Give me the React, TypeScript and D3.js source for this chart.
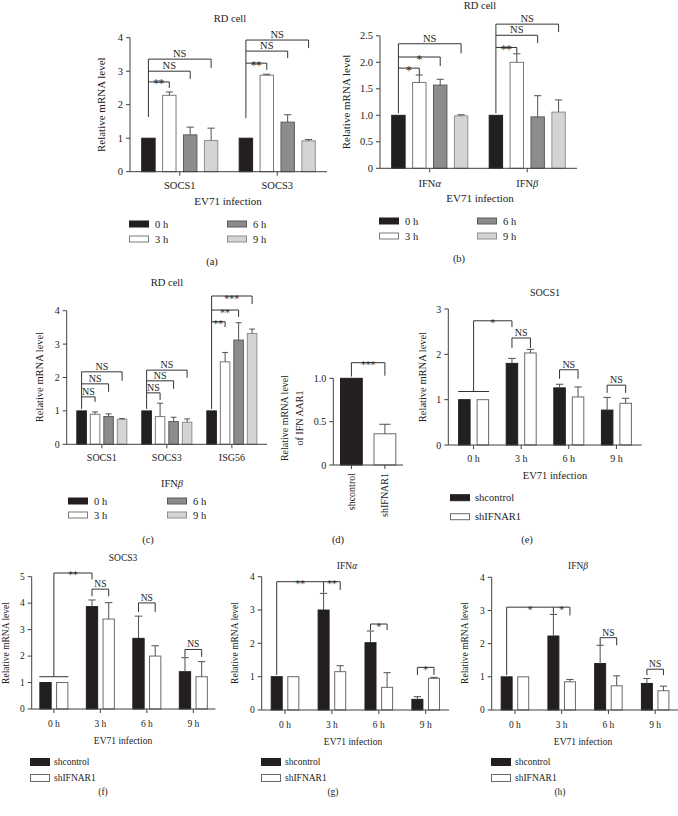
import React from "react";
import * as d3 from "d3";

const FONT = "Liberation Serif, DejaVu Serif, serif";
const STARFONT = "DejaVu Serif, Liberation Serif";
const AXIS = "#404040";
const BRK = "#333333";
const ERR = "#505050";

// ---------------- data ----------------
const timePoints = ["0 h", "3 h", "6 h", "9 h"];
const timeFill = ["#231f20", "#ffffff", "#8c8c8c", "#d4d4d4"];
const timeStroke = ["#231f20", "#7a7a7a", "#5c5c5c", "#8f8f8f"];
const shGroups = ["shcontrol", "shIFNAR1"];
const shFill = ["#231f20", "#ffffff"];
const shStroke = ["#231f20", "#6a6a6a"];

// (a) RD cell, EV71 infection
const genesA = ["SOCS1", "SOCS3"];
const meanA = [[1, 2.28, 1.1, 0.93], [1, 2.88, 1.48, 0.92]];
const errA = [[0, 0.1, 0.23, 0.37], [0, 0.03, 0.22, 0.04]];
const ticksA = [0, 1, 2, 3, 4];

// (b)
const genesB = ["IFNα", "IFNβ"];
const meanB = [[1, 1.62, 1.57, 0.99], [1, 2.0, 0.97, 1.06]];
const errB = [[0, 0.14, 0.11, 0.02], [0, 0.16, 0.4, 0.23]];
const ticksB = [0, 0.5, 1, 1.5, 2, 2.5];

// (c) IFNβ treatment
const genesC = ["SOCS1", "SOCS3", "ISG56"];
const meanC = [[1, 0.9, 0.83, 0.75], [1, 0.83, 0.68, 0.66], [1, 2.47, 3.12, 3.32]];
const errC = [[0, 0.07, 0.08, 0.02], [0, 0.4, 0.13, 0.1], [0, 0.28, 0.52, 0.13]];
const ticksC = [0, 1, 2, 3, 4];

// (d) IFNAR1 knockdown
const meanD = [[1], [0.36]];
const errD = [[0], [0.11]];
const ticksD = [0, 0.5, 1];

// (e)-(h) shcontrol / shIFNAR1 per time point  [time][sh]
const meanE = [[1, 1], [1.8, 2.03], [1.26, 1.06], [0.77, 0.92]];
const errE = [[0, 0], [0.11, 0.08], [0.08, 0.22], [0.28, 0.11]];
const ticksE = [0, 1, 2, 3];

const meanF = [[1, 1], [3.87, 3.4], [2.67, 2.0], [1.41, 1.22]];
const errF = [[0, 0], [0.25, 0.62], [0.84, 0.39], [0.53, 0.57]];
const ticksF = [0, 1, 2, 3, 4, 5];

const meanG = [[1, 1], [3.0, 1.15], [2.02, 0.68], [0.32, 0.95]];
const errG = [[0, 0], [0.5, 0.18], [0.35, 0.44], [0.08, 0.03]];
const ticksG = [0, 1, 2, 3, 4];

const meanH = [[1, 1], [2.23, 0.85], [1.4, 0.73], [0.8, 0.58]];
const errH = [[0, 0], [0.65, 0.07], [0.55, 0.3], [0.15, 0.14]];
const ticksH = [0, 1, 2, 3, 4];

// significance annotations (value units)
type Pos = [number, number];
type Stem = { at: Pos; y0: number; y1: number };
type Bracket = { from: Pos; to: Pos; y: number; dl?: number; dr?: number; label: string };
type Span = { g: number; y: number };

const stemsA: Stem[] = [{ at: [0, 0], y0: 1.63, y1: 3.36 }, { at: [1, 0], y0: 1.6, y1: 3.93 }];
const bracketsA: Bracket[] = [
  { from: [0, 0], to: [0, 1], y: 2.68, dr: 2.5, label: "**" },
  { from: [0, 0], to: [0, 2], y: 3.0, dr: 2.77, label: "NS" },
  { from: [0, 0], to: [0, 3], y: 3.36, dr: 3.1, label: "NS" },
  { from: [1, 0], to: [1, 1], y: 3.24, dr: 3.04, label: "**" },
  { from: [1, 0], to: [1, 2], y: 3.6, dr: 3.39, label: "NS" },
  { from: [1, 0], to: [1, 3], y: 3.93, dr: 3.69, label: "NS" },
];
const stemsB: Stem[] = [{ at: [0, 0], y0: 1.04, y1: 2.35 }, { at: [1, 0], y0: 1.04, y1: 2.72 }];
const bracketsB: Bracket[] = [
  { from: [0, 0], to: [0, 1], y: 1.89, dr: 1.76, label: "*" },
  { from: [0, 0], to: [0, 2], y: 2.1, dr: 1.93, label: "*" },
  { from: [0, 0], to: [0, 3], y: 2.35, dr: 2.17, label: "NS" },
  { from: [1, 0], to: [1, 1], y: 2.28, dr: 2.17, label: "**" },
  { from: [1, 0], to: [1, 2], y: 2.51, dr: 2.36, label: "NS" },
  { from: [1, 0], to: [1, 3], y: 2.72, dr: 2.57, label: "NS" },
];
const stemsC: Stem[] = [
  { at: [0, 0], y0: 1.06, y1: 2.17 },
  { at: [1, 0], y0: 1.06, y1: 2.22 },
  { at: [2, 0], y0: 1.06, y1: 4.44 },
];
const bracketsC: Bracket[] = [
  { from: [0, 0], to: [0, 1], y: 1.42, dr: 1.27, label: "NS" },
  { from: [0, 0], to: [0, 2], y: 1.81, dr: 1.57, label: "NS" },
  { from: [0, 0], to: [0, 3], y: 2.17, dr: 1.9, label: "NS" },
  { from: [1, 0], to: [1, 1], y: 1.54, dr: 1.33, label: "NS" },
  { from: [1, 0], to: [1, 2], y: 1.9, dr: 1.66, label: "NS" },
  { from: [1, 0], to: [1, 3], y: 2.22, dr: 1.99, label: "NS" },
  { from: [2, 0], to: [2, 1], y: 3.67, dr: 3.51, label: "**" },
  { from: [2, 0], to: [2, 2], y: 4.02, dr: 3.81, label: "**" },
  { from: [2, 0], to: [2, 3], y: 4.44, dr: 4.2, label: "***" },
];
const bracketsD: Bracket[] = [{ from: [0, 0], to: [1, 0], y: 1.18, dl: 1.02, dr: 1.03, label: "***" }];
const spansE: Span[] = [{ g: 0, y: 1.18 }];
const stemsE: Stem[] = [{ at: [0, -1], y0: 1.18, y1: 2.74 }];
const bracketsE: Bracket[] = [
  { from: [0, -1], to: [1, 0], y: 2.74, dr: 2.6, label: "*" },
  { from: [1, 0], to: [1, 1], y: 2.36, dl: 2.14, dr: 2.14, label: "NS" },
  { from: [2, 0], to: [2, 1], y: 1.66, dl: 1.46, dr: 1.46, label: "NS" },
  { from: [3, 0], to: [3, 1], y: 1.32, dl: 1.15, dr: 1.15, label: "NS" },
];
const spansF: Span[] = [{ g: 0, y: 1.22 }];
const stemsF: Stem[] = [{ at: [0, -1], y0: 1.22, y1: 5.14 }];
const bracketsF: Bracket[] = [
  { from: [0, -1], to: [1, 0], y: 5.14, dr: 4.9, label: "**" },
  { from: [1, 0], to: [1, 1], y: 4.53, dl: 4.26, dr: 4.26, label: "NS" },
  { from: [2, 0], to: [2, 1], y: 4.01, dl: 3.67, dr: 3.67, label: "NS" },
  { from: [3, 0], to: [3, 1], y: 2.25, dl: 1.97, dr: 1.97, label: "NS" },
];
const stemsG: Stem[] = [{ at: [0, 0], y0: 1.05, y1: 3.85 }];
const bracketsG: Bracket[] = [
  { from: [0, 0], to: [1, 0], y: 3.85, dr: 3.52, label: "**" },
  { from: [1, 0], to: [1, 1], y: 3.85, dr: 3.6, label: "**" },
  { from: [2, 0], to: [2, 1], y: 2.58, dl: 2.4, dr: 2.4, label: "*" },
  { from: [3, 0], to: [3, 1], y: 1.28, dl: 1.05, dr: 1.05, label: "*" },
];
const stemsH: Stem[] = [{ at: [0, 0], y0: 1.05, y1: 3.1 }];
const bracketsH: Bracket[] = [
  { from: [0, 0], to: [1, 0], y: 3.1, dr: 2.9, label: "*" },
  { from: [1, 0], to: [1, 1], y: 3.1, dr: 2.85, label: "*" },
  { from: [2, 0], to: [2, 1], y: 2.18, dl: 1.95, dr: 1.95, label: "NS" },
  { from: [3, 0], to: [3, 1], y: 1.23, dl: 1.05, dr: 1.05, label: "NS" },
];

// ---------------- rendering ----------------
type PanelDef = {
  groups: string[];
  series: string[];
  fills: string[];
  strokes: string[];
  colorBy: "series" | "group";
  mean: number[][];
  err: number[][];
  ymax: number;
  ticks: number[];
  fmt: (v: number) => string;
  x0: number; x1: number; yb: number; yt: number;
  pi: number; po: number; bpi: number;
  stems?: Stem[]; brackets?: Bracket[]; spans?: Span[];
  fs: number; sigFs: number;
  xLabelY?: number; rotate?: boolean;
  cap: number;
};

function greek(label: string) {
  const m = label.match(/^(.*?)([αβ])$/);
  if (!m) return label;
  return (
    <>
      {m[1]}
      <tspan fontStyle="italic">{m[2]}</tspan>
    </>
  );
}

function Panel({ d }: { d: PanelDef }) {
  const x = d3.scaleBand<string>().domain(d.groups).range([d.x0, d.x1]).paddingInner(d.pi).paddingOuter(d.po);
  const xi = d3.scaleBand<string>().domain(d.series).range([0, x.bandwidth()]).paddingInner(d.bpi);
  const y = d3.scaleLinear().domain([0, d.ymax]).range([d.yb, d.yt]);
  const bw = xi.bandwidth();
  const bx = (g: number, s: number) =>
    (x(d.groups[g]) as number) + (s < 0 ? x.bandwidth() / 2 : (xi(d.series[s]) as number) + bw / 2);

  const bars: React.ReactNode[] = [];
  d.mean.forEach((row, g) =>
    row.forEach((v, s) => {
      const ci = d.colorBy === "series" ? s : g;
      const cx = bx(g, s);
      bars.push(
        <rect key={`b${g}-${s}`} x={cx - bw / 2 + 0.5} y={y(v)} width={bw - 1} height={y(0) - y(v)}
          fill={d.fills[ci]} stroke={d.strokes[ci]} strokeWidth={1} />
      );
      const e = d.err[g][s];
      if (e > 0) {
        const cw = bw * d.cap;
        bars.push(
          <g key={`e${g}-${s}`} stroke={ERR} strokeWidth={1}>
            <line x1={cx} x2={cx} y1={y(v)} y2={y(v + e)} />
            <line x1={cx - cw / 2} x2={cx + cw / 2} y1={y(v + e)} y2={y(v + e)} />
          </g>
        );
      }
    })
  );

  const sig: React.ReactNode[] = [];
  (d.spans || []).forEach((sp, i) => {
    const gx = x(d.groups[sp.g]) as number;
    sig.push(<line key={`sp${i}`} x1={gx} x2={gx + x.bandwidth()} y1={y(sp.y)} y2={y(sp.y)} stroke={BRK} />);
  });
  (d.stems || []).forEach((st, i) => {
    const cx = bx(st.at[0], st.at[1]);
    sig.push(<line key={`st${i}`} x1={cx} x2={cx} y1={y(st.y0)} y2={y(st.y1)} stroke={BRK} />);
  });
  (d.brackets || []).forEach((b, i) => {
    const xa = bx(b.from[0], b.from[1]);
    const xb = bx(b.to[0], b.to[1]);
    const yy = y(b.y);
    sig.push(
      <g key={`br${i}`} stroke={BRK} fill="none" strokeWidth={1}>
        <line x1={xa} x2={xb} y1={yy} y2={yy} />
        {b.dl !== undefined && <line x1={xa} x2={xa} y1={yy} y2={y(b.dl)} />}
        {b.dr !== undefined && <line x1={xb} x2={xb} y1={yy} y2={y(b.dr)} />}
      </g>
    );
    const star = b.label.includes("*");
    sig.push(
      <text key={`bt${i}`} x={(xa + xb) / 2} y={yy + (star ? 5.5 : -2)} textAnchor="middle"
        fontFamily={star ? STARFONT : FONT} fontSize={d.sigFs} fill="#222">{b.label}</text>
    );
  });

  return (
    <g fontFamily={FONT}>
      {bars}
      {sig}
      <g stroke={AXIS} strokeWidth={1}>
        <line x1={d.x0} x2={d.x0} y1={y(0)} y2={y(d.ymax)} />
        <line x1={d.x0} x2={d.x1} y1={y(0)} y2={y(0)} />
        {d.ticks.map((t) => (
          <line key={`yt${t}`} x1={d.x0 - 4} x2={d.x0} y1={y(t)} y2={y(t)} />
        ))}
        {d.groups.map((gname, g) => (
          <line key={`xt${g}`} x1={bx(g, -1)} x2={bx(g, -1)} y1={y(0)} y2={y(0) + 4} />
        ))}
      </g>
      {d.ticks.map((t) => (
        <text key={`yl${t}`} x={d.x0 - 7} y={y(t)} dy="0.35em" textAnchor="end" fontSize={d.fs} fill="#222">
          {d.fmt(t)}
        </text>
      ))}
      {d.groups.map((gname, g) =>
        d.rotate ? (
          <text key={`xl${g}`} transform={`translate(${bx(g, -1) + 3.5},${y(0) + 8}) rotate(-90)`} textAnchor="end"
            fontSize={d.fs} fill="#222">{gname}</text>
        ) : (
          <text key={`xl${g}`} x={bx(g, -1)} y={d.xLabelY} textAnchor="middle" fontSize={d.fs} fill="#222">
            {greek(gname)}
          </text>
        )
      )}
    </g>
  );
}

function Txt({ x, y, s, children, rot }: { x: number; y: number; s: number; children: React.ReactNode; rot?: boolean }) {
  return rot ? (
    <text transform={`translate(${x},${y}) rotate(-90)`} textAnchor="middle" fontSize={s} fontFamily={FONT} fill="#222">
      {children}
    </text>
  ) : (
    <text x={x} y={y} textAnchor="middle" fontSize={s} fontFamily={FONT} fill="#222">{children}</text>
  );
}

type LegItem = { label: string; fill: string; stroke: string; x: number; y: number };
function Legend({ items, w, h, gap, fs }: { items: LegItem[]; w: number; h: number; gap: number; fs: number }) {
  return (
    <g fontFamily={FONT}>
      {items.map((it, i) => (
        <g key={i}>
          <rect x={it.x + 0.5} y={it.y - h / 2} width={w} height={h} fill={it.fill} stroke={it.stroke} />
          <text x={it.x + w + gap} y={it.y} dy="0.35em" fontSize={fs} fill="#222">{it.label}</text>
        </g>
      ))}
    </g>
  );
}

const intFmt = (v: number) => d3.format("d")(v);
const decFmt = (v: number) => (v === 0 ? "0" : d3.format(".1f")(v));

function timeLegend(x1: number, x2: number, y1: number, y2: number): LegItem[] {
  const xs = [x1, x1, x2, x2];
  const ys = [y1, y2, y1, y2];
  return timePoints.map((t, i) => ({ label: t, fill: timeFill[i], stroke: timeStroke[i], x: xs[i], y: ys[i] }));
}
function shLegend(x: number, y1: number, y2: number): LegItem[] {
  return shGroups.map((t, i) => ({ label: t, fill: shFill[i], stroke: shStroke[i], x, y: i === 0 ? y1 : y2 }));
}

export default function App() {
  const common = { series: timePoints, fills: timeFill, strokes: timeStroke, colorBy: "series" as const };
  const shCommon = { series: shGroups, fills: shFill, strokes: shStroke, colorBy: "series" as const };
  const pA: PanelDef = { ...common, groups: genesA, mean: meanA, err: errA, ymax: 4, ticks: ticksA, fmt: intFmt,
    x0: 130, x1: 327, yb: 171.7, yt: 37.7, pi: 0.209, po: 0.115, bpi: 0.31, stems: stemsA, brackets: bracketsA,
    fs: 10.5, sigFs: 10.5, xLabelY: 189, cap: 0.5 };
  const pB: PanelDef = { ...common, groups: genesB, mean: meanB, err: errB, ymax: 2.5, ticks: ticksB, fmt: decFmt,
    x0: 380, x1: 577, yb: 168.3, yt: 35.8, pi: 0.209, po: 0.115, bpi: 0.31, stems: stemsB, brackets: bracketsB,
    fs: 10.5, sigFs: 10.5, xLabelY: 187, cap: 0.5 };
  const pC: PanelDef = { ...common, groups: genesC, mean: meanC, err: errC, ymax: 4, ticks: ticksC, fmt: intFmt,
    x0: 66.7, x1: 267, yb: 444.3, yt: 310.7, pi: 0.215, po: 0.148, bpi: 0.22, stems: stemsC, brackets: bracketsC,
    fs: 10, sigFs: 10, xLabelY: 461, cap: 0.55 };
  const pD: PanelDef = { groups: shGroups, series: ["v"], fills: shFill, strokes: shStroke, colorBy: "group",
    mean: meanD, err: errD, ymax: 1, ticks: ticksD, fmt: decFmt,
    x0: 333.3, x1: 403, yb: 465, yt: 378.3, pi: 0.32, po: 0.2, bpi: 0, brackets: bracketsD,
    fs: 10, sigFs: 9.5, rotate: true, cap: 0.5 };
  const pE: PanelDef = { ...shCommon, groups: timePoints, mean: meanE, err: errE, ymax: 3, ticks: ticksE, fmt: intFmt,
    x0: 448.3, x1: 641.7, yb: 445, yt: 309, pi: 0.349, po: 0.206, bpi: 0.324, stems: stemsE, brackets: bracketsE,
    spans: spansE, fs: 10, sigFs: 10, xLabelY: 462, cap: 0.6 };
  const pF: PanelDef = { ...shCommon, groups: timePoints, mean: meanF, err: errF, ymax: 5, ticks: ticksF, fmt: intFmt,
    x0: 31.7, x1: 215.5, yb: 709, yt: 576.7, pi: 0.376, po: 0.165, bpi: 0.263, stems: stemsF, brackets: bracketsF,
    spans: spansF, fs: 9.5, sigFs: 9.5, xLabelY: 727, cap: 0.6 };
  const pG: PanelDef = { ...shCommon, groups: timePoints, mean: meanG, err: errG, ymax: 4, ticks: ticksG, fmt: intFmt,
    x0: 261.7, x1: 449, yb: 710, yt: 576.7, pi: 0.39, po: 0.192, bpi: 0.277, stems: stemsG, brackets: bracketsG,
    fs: 9.5, sigFs: 9.5, xLabelY: 728, cap: 0.6 };
  const pH: PanelDef = { ...shCommon, groups: timePoints, mean: meanH, err: errH, ymax: 4, ticks: ticksH, fmt: intFmt,
    x0: 491.7, x1: 678.4, yb: 710, yt: 577.3, pi: 0.39, po: 0.192, bpi: 0.277, stems: stemsH, brackets: bracketsH,
    fs: 9.5, sigFs: 9.5, xLabelY: 728, cap: 0.6 };

  return (
    <svg width={678} height={816} style={{ position: "absolute", left: 0, top: 0, background: "#fff", opacity: 0.999 }}>
      <rect width={678} height={816} fill="#fff" />
      {/* (a) */}
      <Txt x={230} y={22} s={10.5}>RD cell</Txt>
      <Txt x={105} y={104.7} s={11} rot>Relative mRNA level</Txt>
      <Panel d={pA} />
      <Txt x={228} y={205} s={11}>EV71 infection</Txt>
      <Legend items={timeLegend(129, 227, 224, 239)} w={19} h={6} gap={7} fs={10.5} />
      <Txt x={212} y={265} s={10.5}>(a)</Txt>

      {/* (b) */}
      <Txt x={480} y={9} s={10.5}>RD cell</Txt>
      <Txt x={350} y={102} s={11} rot>Relative mRNA level</Txt>
      <Panel d={pB} />
      <Txt x={480} y={202} s={11}>EV71 infection</Txt>
      <Legend items={timeLegend(379, 477, 221, 236)} w={19} h={6} gap={7} fs={10.5} />
      <Txt x={459} y={262} s={10.5}>(b)</Txt>

      {/* (c) */}
      <Txt x={167} y={286} s={10.5}>RD cell</Txt>
      <Txt x={43} y={377} s={10.5} rot>Relative mRNA level</Txt>
      <Panel d={pC} />
      <Txt x={172} y={487} s={10.5}>IFN<tspan fontStyle="italic">β</tspan></Txt>
      <Legend items={timeLegend(68, 167, 501, 515)} w={19} h={6} gap={7} fs={10.5} />
      <Txt x={148} y={543} s={10.5}>(c)</Txt>

      {/* (d) */}
      <Txt x={288} y={418} s={10} rot>Relative mRNA level</Txt>
      <Txt x={303} y={418} s={10} rot>of IFN AAR1</Txt>
      <Panel d={pD} />
      <Txt x={338} y={543} s={10.5}>(d)</Txt>

      {/* (e) */}
      <Txt x={545} y={296} s={10}>SOCS1</Txt>
      <Txt x={426} y={377} s={10.5} rot>Relative mRNA level</Txt>
      <Panel d={pE} />
      <Txt x={555} y={479} s={10.5}>EV71 infection</Txt>
      <Legend items={shLegend(450, 497.7, 516.7)} w={19} h={6} gap={6} fs={10.5} />
      <Txt x={527} y={543} s={10.5}>(e)</Txt>

      {/* (f) */}
      <Txt x={123} y={561} s={9.5}>SOCS3</Txt>
      <Txt x={9} y={643} s={9.5} rot>Relative mRNA level</Txt>
      <Panel d={pF} />
      <Txt x={123} y={744} s={9.5}>EV71 infection</Txt>
      <Legend items={shLegend(30, 762, 778)} w={19} h={7} gap={5} fs={9.5} />
      <Txt x={103} y={795} s={9.5}>(f)</Txt>

      {/* (g) */}
      <Txt x={347} y={569} s={9.5}>IFN<tspan fontStyle="italic">α</tspan></Txt>
      <Txt x={238} y={643} s={9.5} rot>Relative mRNA level</Txt>
      <Panel d={pG} />
      <Txt x={353} y={745} s={9.5}>EV71 infection</Txt>
      <Legend items={shLegend(261, 762, 778)} w={19} h={7} gap={5} fs={9.5} />
      <Txt x={333} y={795} s={9.5}>(g)</Txt>

      {/* (h) */}
      <Txt x={578} y={569} s={9.5}>IFN<tspan fontStyle="italic">β</tspan></Txt>
      <Txt x={468} y={643} s={9.5} rot>Relative mRNA level</Txt>
      <Panel d={pH} />
      <Txt x={583} y={745} s={9.5}>EV71 infection</Txt>
      <Legend items={shLegend(491, 762, 778)} w={19} h={7} gap={5} fs={9.5} />
      <Txt x={560} y={795} s={9.5}>(h)</Txt>
    </svg>
  );
}
